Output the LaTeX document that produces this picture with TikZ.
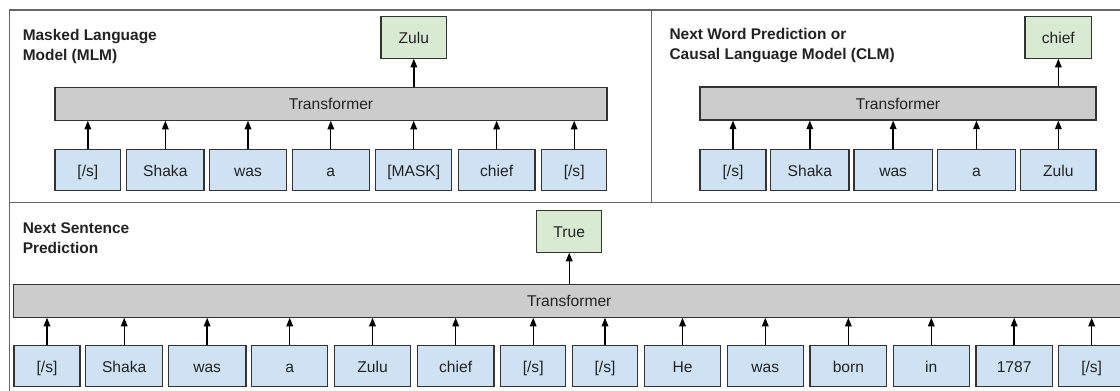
\documentclass[tikz,border=0pt]{standalone}
\usepackage{fontspec}
\setmainfont{Liberation Sans}
\usetikzlibrary{arrows.meta}
\definecolor{tokfill}{HTML}{CFE2F3}
\definecolor{outfill}{HTML}{D9EAD3}
\definecolor{barfill}{HTML}{CCCCCC}
\definecolor{edgecol}{HTML}{333333}
\definecolor{framecol}{HTML}{666666}
\definecolor{inkcol}{HTML}{222222}
\begin{document}
\begin{tikzpicture}[x=0.75pt,y=-0.75pt,
  font=\fontsize{11.7}{15}\selectfont,
  cell/.style={draw=edgecol, line width=0.8pt, inner sep=0pt, text=inkcol,
    text height=11.8pt, text depth=2.4pt},
  tok/.style={cell, fill=tokfill, minimum height=41*0.75pt, minimum width=#1*0.75pt},
  outbox/.style={cell, fill=outfill, minimum height=41.5*0.75pt, minimum width=#1*0.75pt},
  bar/.style={cell, fill=barfill, minimum height=33*0.75pt, minimum width=#1*0.75pt},
  title/.style={anchor=north west, inner sep=0pt, align=left, text=inkcol,
    font=\fontsize{11.6}{15}\selectfont\bfseries},
  frame/.style={draw=framecol, line width=0.9pt},
  link/.style={draw=black, line width=1pt, -{Triangle[width=5pt,length=6.5pt]}}]
\useasboundingbox (0,0) rectangle (1120,390);
\clip (0,0) rectangle (1120,390);

% panel frames
\draw[frame] (9.3,10) rectangle (1135,405);
\draw[frame] (651.7,10) -- (651.7,202.3);
\draw[frame] (9.3,202.3) -- (1135,202.3);

% ---- Masked Language Model ----
\node[title] (t1) at (22.5,29) {Masked Language\\Model (MLM)};
\node[bar=552] (b1) at (331,103.7) {Transformer};
\node[outbox=65.7] (o1) at (413.85,37.5) {Zulu};
\node[tok=65.7] (m1) at (87.85,170.3) {[/s]};
\node[tok=77.3] (m2) at (165.35,170.3) {Shaka};
\node[tok=77.4] (m3) at (248,170.3) {was};
\node[tok=77]   (m4) at (330.8,170.3) {a};
\node[tok=76]   (m5) at (413.7,170.3) {[MASK]};
\node[tok=76.7] (m6) at (496.65,170.3) {chief};
\node[tok=65]   (m7) at (574.2,170.3) {[/s]};
\foreach \n in {m1,m2,m3,m4,m5,m6,m7}
  \draw[link] (\n.north) -- (\n.north |- b1.south);
\draw[link] (o1.south |- b1.north) -- (o1.south);

% ---- Causal Language Model ----
\node[title] (t2) at (669.3,28.5) {Next Word Prediction or\\Causal Language Model (CLM)};
\node[bar=396] (b2) at (898,103.5) {Transformer};
\node[outbox=66.7] (o2) at (1058.35,37.5) {chief};
\node[tok=66]   (c1) at (733,170.3) {[/s]};
\node[tok=78.3] (c2) at (809.85,170.3) {Shaka};
\node[tok=78.3] (c3) at (893.15,170.3) {was};
\node[tok=78.4] (c4) at (976.5,170.3) {a};
\node[tok=75.3] (c5) at (1058.35,170.3) {Zulu};
\foreach \n in {c1,c2,c3,c4,c5}
  \draw[link] (\n.north) -- (\n.north |- b2.south);
\draw[link] (o2.south |- b2.north) -- (o2.south);

% ---- Next Sentence Prediction ----
\node[title] (t3) at (22.5,222.3) {Next Sentence\\Prediction};
\node[bar=1111.7] (b3) at (569.2,300.7) {Transformer};
\node[outbox=65] (o3) at (569.2,231.35) {True};
\node[tok=66]   (s1)  at (47,365.85) {[/s]};
\node[tok=77]   (s2)  at (124.2,365.85) {Shaka};
\node[tok=77.7] (s3)  at (207.15,365.85) {was};
\node[tok=76]   (s4)  at (289.7,365.85) {a};
\node[tok=76.4] (s5)  at (372.5,365.85) {Zulu};
\node[tok=76.7] (s6)  at (455.65,365.85) {chief};
\node[tok=65]   (s7)  at (533.2,365.85) {[/s]};
\node[tok=65.4] (s8)  at (605,365.85) {[/s]};
\node[tok=76.4] (s9)  at (682.5,365.85) {He};
\node[tok=76]   (s10) at (765.3,365.85) {was};
\node[tok=76.7] (s11) at (848.35,365.85) {born};
\node[tok=76]   (s12) at (931.3,365.85) {in};
\node[tok=76.3] (s13) at (1014.15,365.85) {1787};
\node[tok=66.7] (s14) at (1091.65,365.85) {[/s]};
\foreach \n in {s1,s2,s3,s4,s5,s6,s7,s8,s9,s10,s11,s12,s13,s14}
  \draw[link] (\n.north) -- (\n.north |- b3.south);
\draw[link] (o3.south |- b3.north) -- (o3.south);
\end{tikzpicture}
\end{document}
